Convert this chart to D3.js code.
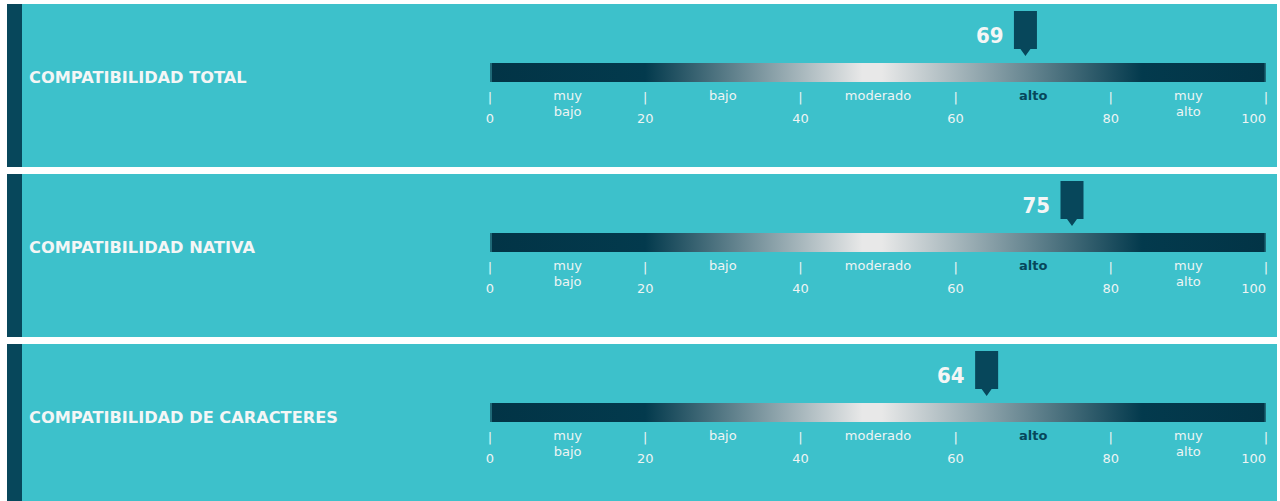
<!DOCTYPE html>
<html>
<head>
<meta charset="utf-8">
<script src="https://cdn.jsdelivr.net/npm/d3@7"></script>
<style>
  body { margin: 0; background: #fff; }
  svg { display: block; font-family: "DejaVu Sans", sans-serif; }
</style>
</head>
<body>
<svg width="1280" height="501"></svg>
<script>
'use strict';

// the data
var titles = ['COMPATIBILIDAD TOTAL', 'COMPATIBILIDAD NATIVA', 'COMPATIBILIDAD DE CARACTERES'];
var scores = [69, 75, 64];
var tickValues = [0, 20, 40, 60, 80, 100];
var bandLabels = [['muy', 'bajo'], ['bajo'], ['moderado'], ['alto'], ['muy', 'alto']];
var bandMids = [10, 30, 50, 70, 90];

var svg = d3.select('svg');
var panelH = 163, gap = 7, top0 = 4;

var x = d3.scaleLinear().domain([0, 100]).range([490, 1266]);

// gradient for the bar
var grad = svg.append('defs').append('linearGradient')
  .attr('id', 'barGrad').attr('x1', '0%').attr('x2', '100%');
[[0, '#023446'], [0.2, '#033a4d'], [0.48, '#e8e8e8'], [0.505, '#e8e8e8'], [0.84, '#033a4d'], [1, '#023446']]
  .forEach(function(s){
    grad.append('stop').attr('offset', s[0]).attr('stop-color', s[1]);
  });

var panels = svg.selectAll('g.panel').data(titles).enter().append('g')
  .attr('class', 'panel')
  .attr('transform', function(d, i){ return 'translate(0,' + (top0 + i * (panelH + gap)) + ')'; });

panels.append('rect').attr('x', 7).attr('width', 1270).attr('height', panelH).attr('fill', '#3dc1cb');
panels.append('rect').attr('x', 7).attr('width', 15).attr('height', panelH).attr('fill', '#07475b');

panels.append('text')
  .attr('x', 29).attr('y', 79)
  .attr('fill', '#f4f6f6').attr('font-size', 16.2).attr('font-weight', 'bold')
  .text(function(d){ return d; });

// bar
panels.append('rect')
  .attr('x', x(0)).attr('y', 59).attr('width', x(100) - x(0)).attr('height', 19)
  .attr('fill', 'url(#barGrad)');
panels.append('rect').attr('x', x(0)).attr('y', 59).attr('width', 2).attr('height', 19).attr('fill', '#1f6a78');
panels.append('rect').attr('x', x(100) - 1.5).attr('y', 59).attr('width', 1.5).attr('height', 19).attr('fill', '#1f6a78');

// ticks + numbers
tickValues.forEach(function(v){
  panels.append('text')
    .attr('x', x(v)).attr('y', 98)
    .attr('text-anchor', 'middle')
    .attr('fill', '#eef4f4').attr('font-size', 13)
    .text('|');
  panels.append('text')
    .attr('x', v === 100 ? x(v) : x(v)).attr('y', 119)
    .attr('text-anchor', v === 100 ? 'end' : 'middle')
    .attr('fill', '#eef4f4').attr('font-size', 13)
    .text(v);
});

// band labels, the band holding the score is highlighted
panels.each(function(d, i){
  var g = d3.select(this);
  var score = scores[i];
  bandLabels.forEach(function(lines, b){
    var active = score >= bandMids[b] - 10 && score < bandMids[b] + 10;
    var t = g.append('text')
      .attr('x', x(bandMids[b])).attr('y', 96)
      .attr('text-anchor', 'middle')
      .attr('font-size', 13)
      .attr('fill', active ? '#07475b' : '#eef4f4')
      .attr('font-weight', active ? 'bold' : 'normal');
    lines.forEach(function(l, k){
      t.append('tspan').attr('x', x(bandMids[b])).attr('dy', k === 0 ? 0 : 16).text(l);
    });
  });

  // marker
  var mx = x(score);
  g.append('path')
    .attr('d', 'M' + (mx - 11.5) + ',7 H' + (mx + 11.5) + ' V45 H' + (mx + 5) + ' L' + mx + ',52 L' + (mx - 5) + ',45 H' + (mx - 11.5) + 'Z')
    .attr('fill', '#07475b');
  g.append('text')
    .attr('x', mx - 22).attr('y', 39)
    .attr('text-anchor', 'end')
    .attr('fill', '#f4f6f6').attr('font-size', 22)
    .attr('font-family', '"DejaVu Sans Condensed", "DejaVu Sans", sans-serif')
    .attr('font-weight', 'bold')
    .text(score);
});
</script>
</body>
</html>
